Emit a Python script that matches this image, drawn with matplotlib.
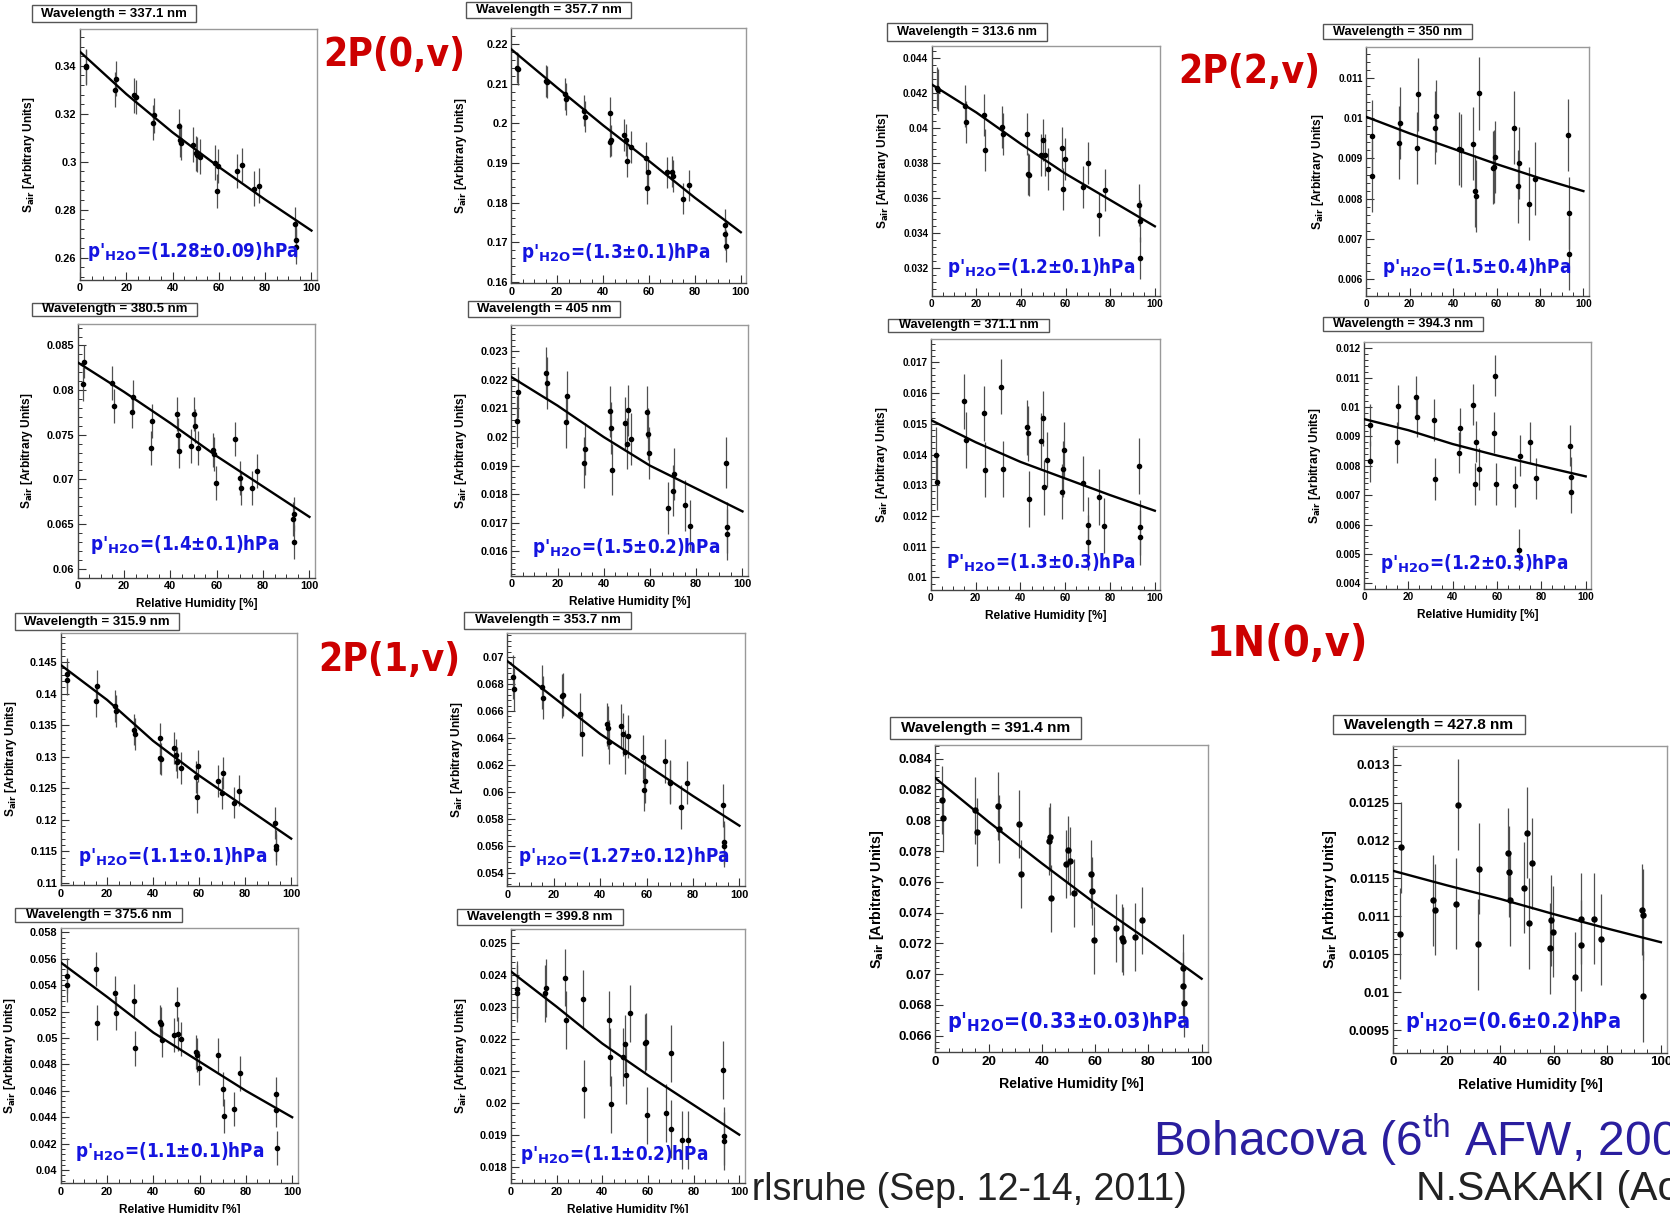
import numpy as np
import matplotlib
matplotlib.use("Agg")
import matplotlib.pyplot as plt
from matplotlib.patches import Rectangle
from matplotlib.ticker import MultipleLocator, AutoMinorLocator, FuncFormatter

plt.rcParams["font.family"] = ["Liberation Sans", "DejaVu Sans"]
plt.rcParams["mathtext.fontset"] = "dejavusans"

nan = float("nan")

# ---------------- data ----------------
RH = [2.5, 2.8, 15.0, 15.5, 23.5, 24.0, 31.5, 32.0, 42.8, 43.2, 43.6, 49.0, 50.0,
      50.6, 52.0, 58.5, 59.0, 59.5, 68.0, 70.0, 70.3, 75.0, 77.5, 93.0, 93.2, 93.4]
FIT_RH = [0, 20, 40, 60, 80, 100]

WAVELENGTHS = ["337.1", "357.7", "380.5", "405", "315.9", "353.7", "375.6",
               "399.8", "313.6", "350", "371.1", "394.3", "391.4", "427.8"]

S_337_1 = [0.3397, 0.3393, 0.3300, 0.3346, 0.3276, 0.3270, 0.3163, 0.3193, 0.3147, 0.3090, 0.3080, 0.3071, 0.3035,
           0.3030, 0.3021, 0.2996, 0.2878, 0.2982, 0.2961, 0.2986, nan, 0.2888, 0.2900, 0.2739, 0.2672, 0.2646]
S_357_7 = [0.2141, 0.2138, 0.2107, 0.2105, 0.2074, 0.2061, 0.2032, 0.2017, 0.2026, 0.1954, 0.1957, 0.1971, 0.1958,
           0.1905, 0.1941, 0.1912, 0.1836, 0.1876, 0.1876, 0.1878, 0.1867, 0.1810, 0.1843, 0.1743, 0.1720, 0.1690]
S_380_5 = [0.0807, 0.0832, 0.0808, 0.0782, 0.0776, 0.0792, 0.0735, 0.0765, 0.0773, 0.0750, 0.0732, 0.0737, 0.0773,
           0.0760, 0.0735, 0.0733, 0.0728, 0.0696, 0.0745, 0.0702, 0.0690, 0.0690, 0.0709, 0.0656, 0.0661, 0.0630]
S_405 = [0.02055, 0.02156, 0.02224, 0.02189, 0.02051, 0.02142, 0.01911, 0.01959, 0.02090, 0.02032, 0.01886, 0.02049,
         0.01977, 0.02093, 0.01994, 0.02088, 0.02011, 0.01944, 0.01752, 0.01813, 0.01870, 0.01761, 0.01690, 0.01911,
         0.01684, 0.01660]
S_315_9 = [0.1431, 0.1422, 0.1388, 0.1412, 0.1380, 0.1372, 0.1343, 0.1336, 0.1329, 0.1298, 0.1296, 0.1314, 0.1303,
           0.1291, 0.1282, 0.1268, 0.1236, 0.1285, 0.1261, 0.1242, 0.1274, 0.1227, 0.1246, 0.1195, 0.1159, 0.1153]
S_353_7 = [0.06852, 0.06760, 0.06778, 0.06699, 0.06711, 0.06720, 0.06575, 0.06427, 0.06501, 0.06477, 0.06370,
           0.06489, 0.06427, 0.06296, 0.06412, 0.06259, 0.06017, 0.06081, 0.06230, 0.06077, 0.06070, 0.05889,
           0.06069, 0.05901, 0.05627, 0.05602]
S_375_6 = [0.05472, 0.05401, 0.05522, 0.05116, 0.05338, 0.05191, 0.05280, 0.04921, 0.05123, 0.05106, 0.04984,
           0.05022, 0.05255, 0.05030, 0.04992, 0.04896, 0.04871, 0.04775, 0.04871, 0.04613, 0.04409, 0.04462,
           0.04732, 0.04573, 0.04454, 0.04169]
S_399_8 = [0.02354, 0.02342, 0.02342, 0.02359, 0.02391, 0.02258, 0.02324, 0.02042, 0.02258, 0.02142, 0.01995,
           0.02142, 0.02185, 0.02086, 0.02279, 0.02187, 0.02191, 0.01960, 0.01967, 0.01918, 0.02154, 0.01883,
           0.01883, 0.02102, 0.01896, 0.01881]
S_313_6 = [0.04232, 0.04219, 0.04128, 0.04036, 0.04076, 0.03876, 0.04008, 0.03968, 0.03966, 0.03739, 0.03731,
           0.03848, 0.03933, 0.03848, 0.03766, 0.03886, 0.03655, 0.03827, 0.03665, 0.03804, nan, 0.03503,
           0.03648, 0.03564, 0.03470, 0.03259]
S_350 = [0.00955, 0.00856, 0.00939, 0.00988, 0.00926, 0.01059, 0.00976, 0.01005, 0.00924, nan, 0.00920,
         0.00937, 0.00819, 0.00807, 0.01061, 0.00877, 0.00880, 0.00904, 0.00976, 0.00831, 0.00889, 0.00788,
         0.00850, 0.00958, 0.00765, 0.00664]
S_371_1 = [0.01399, 0.01309, 0.01573, 0.01447, 0.01534, 0.01351, 0.01621, 0.01353, 0.01488, 0.01469, 0.01255,
           0.01445, 0.01518, 0.01293, 0.01383, 0.01279, 0.01353, 0.01416, 0.01306, 0.01171, 0.01114, 0.01262,
           0.01168, 0.01363, 0.01163, 0.01130]
S_394_3 = [0.00939, 0.00815, 0.00880, 0.01005, 0.01035, 0.00967, 0.00956, 0.00755, 0.00844, 0.00928, nan,
           0.01008, 0.00738, 0.00882, 0.00789, 0.00913, 0.01107, 0.00738, 0.00730, 0.00514, 0.00835, 0.00880,
           0.00758, 0.00869, 0.00761, 0.00710]
S_391_4 = [0.08133, 0.08012, 0.08064, 0.07923, 0.08094, 0.07943, 0.07975, 0.07652, 0.07863, 0.07891, 0.07492,
           0.07717, 0.07808, 0.07733, 0.07527, 0.07652, 0.07542, 0.07219, 0.07299, 0.07234, 0.07213, 0.07240,
           0.07349, 0.07039, 0.06924, 0.06812]
S_427_8 = [0.01077, 0.01191, 0.01121, 0.01109, 0.01117, 0.01247, 0.01063, 0.01163, 0.01183, 0.01159, 0.01121,
           0.01138, 0.01210, 0.01091, 0.01170, 0.01058, 0.01095, 0.01080, 0.01020, 0.01062, 0.01097, 0.01097,
           0.01070, 0.01109, 0.01102, 0.00995]

F_337_1 = [0.3458, 0.3282, 0.3122, 0.2978, 0.2842, 0.2713]
F_357_7 = [0.2187, 0.2090, 0.1995, 0.1905, 0.1812, 0.1725]
F_380_5 = [0.0831, 0.0798, 0.0763, 0.0726, 0.0692, 0.0658]
F_405 = [0.0221, 0.0211, 0.0200, 0.0190, 0.0182, 0.0174]
F_315_9 = [0.1445, 0.1390, 0.1325, 0.1270, 0.1220, 0.1170]
F_353_7 = [0.0697, 0.0670, 0.0643, 0.0620, 0.0597, 0.0575]
F_375_6 = [0.0557, 0.0531, 0.0504, 0.0482, 0.0460, 0.0440]
F_399_8 = [0.0241, 0.0230, 0.02185, 0.02086, 0.01993, 0.0190]
F_313_6 = [0.0425, 0.0409, 0.0391, 0.0374, 0.0359, 0.0344]
F_350 = [0.01003, 0.00962, 0.00924, 0.00886, 0.00851, 0.00819]
F_371_1 = [0.01512, 0.01440, 0.01376, 0.01322, 0.01268, 0.01217]
F_394_3 = [0.00959, 0.00921, 0.00874, 0.00835, 0.00799, 0.00764]
F_391_4 = [0.08274, 0.0799, 0.0772, 0.0746, 0.0722, 0.0697]
F_427_8 = [0.0116, 0.01141, 0.01123, 0.01103, 0.01084, 0.01066]

S_ERR = [0.0072, 0.004, 0.0019, 0.0009, 0.0025, 0.0016, 0.0013, 0.0009, 0.0012, 0.0009, 0.0009, 0.0007, 0.0022, 0.0006]

P_H2O = ["1.28±0.09", "1.3±0.1", "1.4±0.1", "1.5±0.2", "1.1±0.1", "1.27±0.12", "1.1±0.1",
         "1.1±0.2", "1.2±0.1", "1.5±0.4", "1.3±0.3", "1.2±0.3", "0.33±0.03", "0.6±0.2"]
P_SYMBOL = ["p", "p", "p", "p", "p", "p", "p", "p", "p", "p", "P", "p", "p", "p"]

Y_RANGE = [(0.2507, 0.3553), (0.1596, 0.224), (0.05896, 0.0874), (0.01514, 0.02393),
           (0.1096, 0.1496), (0.05301, 0.07178), (0.039, 0.0583), (0.01748, 0.02543),
           (0.03042, 0.0447), (0.00559, 0.01177), (0.00959, 0.01776), (0.00381, 0.01221),
           (0.06492, 0.08487), (0.0092, 0.01325)]
Y_MAJOR = [0.02, 0.01, 0.005, 0.001, 0.005, 0.002, 0.002, 0.001, 0.002, 0.001, 0.001, 0.001, 0.002, 0.0005]

SERIES = [S_337_1, S_357_7, S_380_5, S_405, S_315_9, S_353_7, S_375_6, S_399_8,
          S_313_6, S_350, S_371_1, S_394_3, S_391_4, S_427_8]
FITS = [F_337_1, F_357_7, F_380_5, F_405, F_315_9, F_353_7, F_375_6, F_399_8,
        F_313_6, F_350, F_371_1, F_394_3, F_391_4, F_427_8]

GROUP_LABELS = ["2P(0,v)", "2P(1,v)", "2P(2,v)", "1N(0,v)"]

# ---------------- layout (pixels) ----------------
W, H = 1670, 1213
AX_BOX = [(80, 317, 29, 280), (511.3, 746.3, 28.3, 283.3), (77.7, 315, 324, 578), (511.3, 748, 324.7, 576),
          (61, 296.7, 633, 885.3), (507.3, 745, 633, 886.3), (61, 297.7, 928.3, 1183.3), (511, 744.7, 929, 1183.3),
          (931.8, 1160.2, 46, 296), (1366.3, 1588.6, 46.7, 296), (930.9, 1160.2, 339, 590), (1364, 1591, 342, 589),
          (935.3, 1208, 745.3, 1052.3), (1393.3, 1667.3, 745.7, 1053)]
TITLE_BOX = [(32, 196, 5, 22), (466, 631, 2, 18), (32, 197, 303, 316), (468, 620, 301, 317),
             (15, 179, 613, 630), (464, 631, 612, 629), (15, 182, 908, 922), (457, 623, 909, 925),
             (887, 1047, 23, 41), (1323, 1472, 24, 39), (888, 1049, 319, 332), (1323, 1483, 317, 331),
             (890, 1081, 717, 739), (1333, 1525, 715, 734)]
P_POS = [(0.03, 0.09), (0.043, 0.10), (0.052, 0.11), (0.087, 0.09), (0.073, 0.092), (0.045, 0.096),
         (0.059, 0.104), (0.04, 0.092), (0.067, 0.093), (0.069, 0.093), (0.067, 0.084), (0.07, 0.081),
         (0.043, 0.079), (0.043, 0.081)]
HAS_XLABEL = [False, False, True, True, False, False, True, True, False, False, True, True, True, True]
BIG = [False] * 12 + [True, True]
NARROW = [False] * 8 + [True] * 4 + [False, False]


def fx(x):
    return x / W


def fy(y):
    return 1 - y / H


fig = plt.figure(figsize=(W / 100, H / 100), dpi=100)
fig.patch.set_facecolor("white")

yfmt = FuncFormatter(lambda v, p: f"{round(v, 7):g}")

for i in range(14):
    xl, xr, yt, yb = AX_BOX[i]
    ax = fig.add_axes([fx(xl), fy(yb), (xr - xl) / W, (yb - yt) / H])
    big = BIG[i]
    narrow = NARROW[i]
    tick_fs = 9.6 if big else (7.2 if narrow else 7.9)
    ax.errorbar(RH, SERIES[i], yerr=S_ERR[i], fmt="o", ms=3.6 if big else 3.0, color="black",
                ecolor="#505050", elinewidth=0.9, capsize=0, zorder=3)
    ax.plot(FIT_RH, FITS[i], color="black", lw=1.7, zorder=4)
    ax.set_xlim(0, 102.4)
    ax.set_ylim(*Y_RANGE[i])
    ax.xaxis.set_major_locator(MultipleLocator(20))
    ax.xaxis.set_minor_locator(MultipleLocator(5))
    ax.yaxis.set_major_locator(MultipleLocator(Y_MAJOR[i]))
    ax.yaxis.set_minor_locator(AutoMinorLocator(5))
    ax.yaxis.set_major_formatter(yfmt)
    ax.tick_params(which="both", direction="in", top=False, right=False, colors="#333333",
                   labelsize=tick_fs, labelcolor="black")
    ax.tick_params(which="major", length=6, width=0.8, pad=2.5)
    ax.tick_params(which="minor", length=3, width=0.7)
    for lbl in ax.get_xticklabels() + ax.get_yticklabels():
        lbl.set_fontweight("bold")
    for s in ("left", "bottom"):
        ax.spines[s].set_color("#444444")
        ax.spines[s].set_linewidth(1.0)
    for s in ("top", "right"):
        ax.spines[s].set_color("#999999")
        ax.spines[s].set_linewidth(1.0)
    ax.set_ylabel(r"S$_{\mathbf{air}}$ [Arbitrary Units]", fontsize=10.3 if big else 8.6, fontweight="bold")
    ax.yaxis.set_label_coords(-0.197 if i == 13 else -0.18, 0.5)
    if HAS_XLABEL[i]:
        ax.set_xlabel("Relative Humidity [%]", fontsize=10.2 if big else 8.6, fontweight="bold")
        ax.xaxis.set_label_coords(0.5, -0.08)
    px, py = P_POS[i]
    ax.text(px, py, P_SYMBOL[i] + "'" + r"$_{\mathbf{H2O}}$" + "=(" + P_H2O[i] + ")hPa",
            transform=ax.transAxes, ha="left", va="baseline", color="#1414E0",
            fontsize=15.5 if big else 13.5, fontweight="bold", family="DejaVu Sans",
            fontstretch="condensed", zorder=6)

    x0, x1, y0, y1 = TITLE_BOX[i]
    fig.add_artist(Rectangle((fx(x0), fy(y1)), (x1 - x0) / W, (y1 - y0) / H, transform=fig.transFigure,
                             facecolor="white", edgecolor="#555555", lw=1.0, zorder=5))
    fig.text(fx((x0 + x1) / 2), fy((y0 + y1) / 2), "Wavelength = " + WAVELENGTHS[i] + " nm",
             ha="center", va="center", fontsize=11.1 if big else (9.2 if narrow else 9.5),
             fontweight="bold", zorder=6)

GROUP_POS = [(394, 55), (389, 660), (1249, 72), (1287, 644)]
GROUP_FS = [28, 28, 28, 31]
for lab, (gx, gy), fs in zip(GROUP_LABELS, GROUP_POS, GROUP_FS):
    fig.text(fx(gx), fy(gy), lab, ha="center", va="center", color="#CC0000", fontsize=fs,
             fontweight="bold", family="DejaVu Sans", fontstretch="condensed", zorder=6)

# footer texts (partly hidden, as on the slide)
fig.add_artist(Rectangle((fx(447), fy(1213)), (752 - 447) / W, (1213 - 905) / H, transform=fig.transFigure,
                         facecolor="white", edgecolor="none", zorder=-4))
fig.text(fx(1187), fy(1200), "Karlsruhe (Sep. 12-14, 2011)", ha="right", va="baseline",
         fontsize=27, color="#222222", zorder=-5)
fig.text(fx(1416), fy(1200), "N.SAKAKI (Aoyama Gakuin Univ.)", ha="left", va="baseline",
         fontsize=29.5, color="#222222", zorder=-5)
fig.text(fx(1153), fy(1156), r"Bohacova (6$^{\mathregular{th}}$ AFW, 2009)", ha="left", va="baseline",
         fontsize=34.5, color="#2A1E9E", zorder=6)

fig.savefig("out.png", dpi=100, facecolor="white")
